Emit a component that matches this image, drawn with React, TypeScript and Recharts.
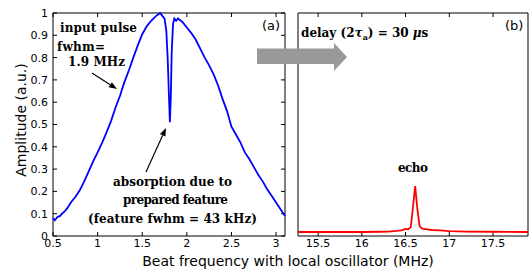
import React from 'react';
import { LineChart, Line, XAxis, YAxis, ReferenceArea, ReferenceLine } from 'recharts';

// panel (a): input pulse spectrum
const pulseFreq = [
  0.5, 0.52, 0.55, 0.58, 0.6, 0.63, 0.66, 0.7, 0.75, 0.8, 0.85, 0.9, 0.95, 1.0,
  1.05, 1.1, 1.15, 1.2, 1.25, 1.3, 1.35, 1.4, 1.45, 1.5, 1.55, 1.6, 1.65, 1.7,
  1.73, 1.75, 1.77, 1.785, 1.8, 1.81, 1.82, 1.83, 1.845, 1.86, 1.88, 1.9, 1.95,
  2.0, 2.05, 2.1, 2.15, 2.2, 2.25, 2.3, 2.35, 2.4, 2.45, 2.5, 2.55, 2.6, 2.65,
  2.7, 2.75, 2.8, 2.85, 2.9, 2.95, 3.0, 3.05, 3.1,
];
const pulseAmp = [
  0.08, 0.07, 0.085, 0.09, 0.1, 0.11, 0.125, 0.15, 0.175, 0.205, 0.245, 0.29,
  0.335, 0.375, 0.418, 0.465, 0.515, 0.575, 0.628, 0.69, 0.742, 0.8, 0.855,
  0.905, 0.94, 0.965, 0.985, 1.0, 0.985, 0.975, 0.92, 0.8, 0.62, 0.51, 0.62,
  0.82, 0.95, 0.975, 0.965, 0.975, 0.96, 0.935, 0.91, 0.88, 0.84, 0.8, 0.765,
  0.725, 0.675, 0.615, 0.56, 0.49, 0.455, 0.42, 0.375, 0.345, 0.31, 0.275,
  0.245, 0.21, 0.18, 0.15, 0.12, 0.09,
];

// panel (b): echo
const echoFreq = [
  15.27, 15.5, 15.8, 16.0, 16.2, 16.3, 16.4, 16.45, 16.5, 16.53, 16.56, 16.585,
  16.61, 16.635, 16.66, 16.68, 16.7, 16.75, 16.8, 16.9, 17.0, 17.2, 17.5, 17.9,
];
const echoAmp = [
  0.018, 0.018, 0.018, 0.018, 0.019, 0.02, 0.023, 0.025, 0.032, 0.03, 0.04,
  0.13, 0.224, 0.12, 0.045, 0.036, 0.032, 0.03, 0.027, 0.025, 0.022, 0.02,
  0.019, 0.018,
];

const ticksA = [0.5, 1, 1.5, 2, 2.5, 3];
const ticksB = [15.5, 16, 16.5, 17, 17.5];
const ticksY = [0, 0.1, 0.2, 0.3, 0.4, 0.5, 0.6, 0.7, 0.8, 0.9, 1];

const domA: [number, number] = [0.5, 3.1];
const domB: [number, number] = [15.27, 17.9];

const pulse = pulseFreq.map((f, i) => ({ f, a: pulseAmp[i] }));
const echo = echoFreq.map((f, i) => ({ f, a: echoAmp[i] }));

const tickFont = { fill: '#000', fontSize: 11, fontFamily: 'DejaVu Sans' };
const serif = { fontFamily: 'DejaVu Serif', fontWeight: 'bold', fontSize: 12 } as const;

// inner (matlab style) tick length, in data units
const tickY = 0.018;
const tickXA = 0.045;

function Note({ x, y, w, children }: { x: number; y: number; w?: number; children: React.ReactNode }) {
  return (
    <text x={x} y={y} {...serif} fill="#000" textLength={w} lengthAdjust="spacing">
      {children}
    </text>
  );
}

function Arrow({ x1, y1, x2, y2 }: { x1: number; y1: number; x2: number; y2: number }) {
  const dx = x2 - x1;
  const dy = y2 - y1;
  const len = Math.hypot(dx, dy);
  const ux = dx / len;
  const uy = dy / len;
  const bx = x2 - ux * 8;
  const by = y2 - uy * 8;
  const head = `${x2},${y2} ${bx - uy * 3},${by + ux * 3} ${bx + uy * 3},${by - ux * 3}`;
  return (
    <g>
      <line x1={x1} y1={y1} x2={bx} y2={by} stroke="#000" strokeWidth={1.2} />
      <polygon points={head} fill="#000" />
    </g>
  );
}

// frame + inward ticks drawn through the chart scales
function frame(xDom: [number, number], xTicks: number[], yTicks: number[], tickX: number) {
  const out: React.ReactNode[] = [
    <ReferenceArea key="box" x1={xDom[0]} x2={xDom[1]} y1={0} y2={1} fill="none"
      stroke="#000" strokeWidth={1} ifOverflow="visible" />,
  ];
  xTicks.forEach((t) => {
    out.push(<ReferenceLine key={`xb${t}`} segment={[{ x: t, y: 0 }, { x: t, y: tickY }]} stroke="#000" ifOverflow="visible" />);
    out.push(<ReferenceLine key={`xt${t}`} segment={[{ x: t, y: 1 }, { x: t, y: 1 - tickY }]} stroke="#000" ifOverflow="visible" />);
  });
  yTicks.forEach((t) => {
    out.push(<ReferenceLine key={`yl${t}`} segment={[{ x: xDom[0], y: t }, { x: xDom[0] + tickX, y: t }]} stroke="#000" ifOverflow="visible" />);
    out.push(<ReferenceLine key={`yr${t}`} segment={[{ x: xDom[1], y: t }, { x: xDom[1] - tickX, y: t }]} stroke="#000" ifOverflow="visible" />);
  });
  return out;
}

function PanelA() {
  return (
    <LineChart width={290} height={272} data={pulse} margin={{ top: 13, right: 5, left: 0, bottom: 16 }}>
      <XAxis dataKey="f" type="number" domain={domA} ticks={ticksA} height={20}
        axisLine={false} tickLine={false} tickSize={0} tickMargin={3} tick={tickFont} />
      <YAxis type="number" domain={[0, 1]} ticks={ticksY} width={53}
        axisLine={false} tickLine={false} tickSize={0} tickMargin={5} tick={tickFont} />
      {frame(domA, ticksA, ticksY, tickXA)}
      <Line dataKey="a" stroke="#0000ff" strokeWidth={1.8} dot={false}
        type="linear" isAnimationActive={false} />
    </LineChart>
  );
}

function PanelB() {
  return (
    <LineChart width={239} height={272} data={echo} margin={{ top: 13, right: 1, left: 8, bottom: 16 }}>
      <XAxis dataKey="f" type="number" domain={domB} ticks={ticksB} height={20}
        axisLine={false} tickLine={false} tickSize={0} tickMargin={3} tick={tickFont} />
      <YAxis type="number" domain={[0, 1]} width={0} axisLine={false} tickLine={false} tick={false} />
      {frame(domB, ticksB, [], 0)}
      <Line dataKey="a" stroke="#ff0000" strokeWidth={1.8} dot={false}
        type="linear" isAnimationActive={false} />
    </LineChart>
  );
}

export default function App() {
  return (
    <div style={{ position: 'absolute', left: 0, top: 0, width: 529, height: 272, background: '#fff' }}>
      <div style={{ position: 'absolute', left: 0, top: 0 }}>
        <PanelA />
      </div>
      <div style={{ position: 'absolute', left: 290, top: 0 }}>
        <PanelB />
      </div>
      <svg width={529} height={272} style={{ position: 'absolute', left: 0, top: 0, pointerEvents: 'none' }}>
        <text x={26} y={120} transform="rotate(-90 26 120)" textAnchor="middle" fontFamily="DejaVu Sans" fontSize={14} fill="#000">
          Amplitude (a.u.)
        </text>
        <text x={288} y={266} textAnchor="middle" fontFamily="DejaVu Sans" fontSize={14} fill="#000">
          Beat frequency with local oscillator (MHz)
        </text>
        <text x={262} y={30} fontFamily="DejaVu Sans" fontSize={13} fill="#000">(a)</text>
        <text x={505} y={30} fontFamily="DejaVu Sans" fontSize={13} fill="#000">(b)</text>

        <Note x={60} y={32} w={77}>input pulse</Note>
        <Note x={57} y={51} w={48}>fwhm=</Note>
        <Note x={68} y={66} w={57}>1.9 MHz</Note>
        <Arrow x1={92} y1={73} x2={117} y2={89} />

        <Note x={113} y={186} w={119}>absorption due to</Note>
        <Note x={123} y={204} w={105}>prepared feature</Note>
        <Note x={88} y={223} w={169}>(feature fwhm = 43 kHz)</Note>
        <Arrow x1={146} y1={172} x2={166} y2={128} />

        <text x={301} y={37} {...serif} fill="#000">
          delay (2<tspan fontStyle="italic">τ</tspan>
          <tspan fontSize={8} dy={3}>a</tspan>
          <tspan dy={-3}>) = 30 </tspan>
          <tspan fontStyle="italic">μ</tspan>s
        </text>
        <Note x={398} y={172} w={30}>echo</Note>

        <polygon points="257,48.5 334,48.5 334,43 347,57 334,71 334,64 257,64" fill="#999999" />
      </svg>
    </div>
  );
}
